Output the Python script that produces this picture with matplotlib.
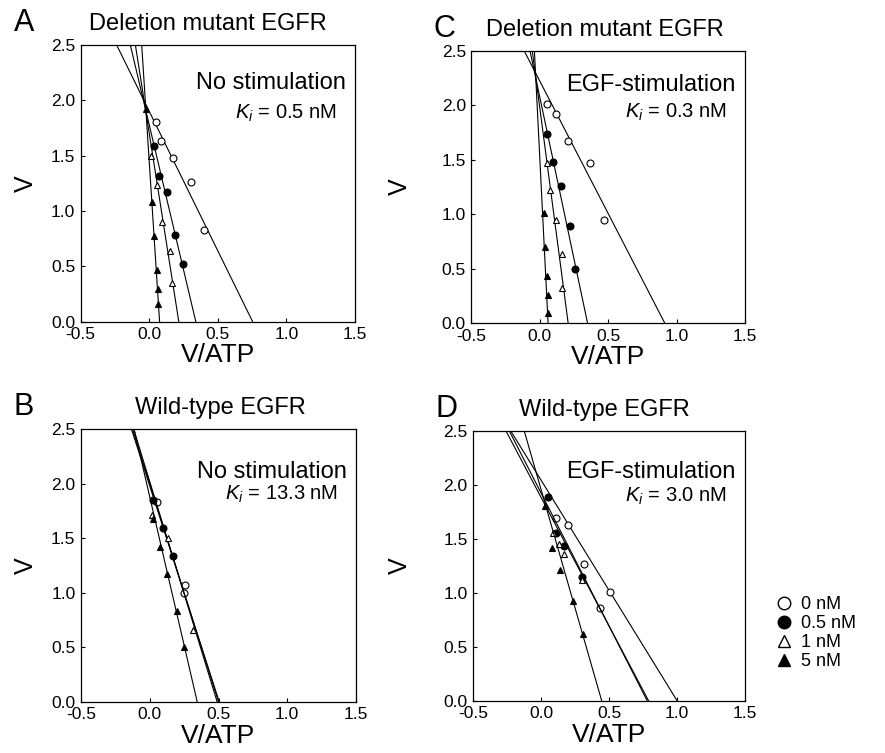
import matplotlib
matplotlib.use("Agg")
import matplotlib.pyplot as plt
from matplotlib.lines import Line2D
import numpy as np

plt.rcParams['font.family'] = ['Liberation Sans', 'DejaVu Sans']
plt.rcParams['mathtext.fontset'] = 'custom'
plt.rcParams['mathtext.rm'] = 'Liberation Sans'
plt.rcParams['mathtext.it'] = 'Liberation Sans:italic'

conc_labels = ["0 nM", "0.5 nM", "1 nM", "5 nM"]

# panel A: deletion mutant, no stimulation
A_x = [[0.047, 0.086, 0.171, 0.302, 0.399],
       [0.037, 0.071, 0.129, 0.185, 0.248],
       [0.013, 0.059, 0.095, 0.151, 0.166],
       [-0.024, 0.018, 0.032, 0.054, 0.061, 0.061]]
A_y = [[1.80, 1.63, 1.48, 1.26, 0.83],
       [1.59, 1.32, 1.17, 0.78, 0.52],
       [1.50, 1.23, 0.90, 0.64, 0.35],
       [1.92, 1.08, 0.77, 0.47, 0.29, 0.16]]
A_vint = [1.90, 1.776, 1.70, 1.44]
A_xint = [0.753, 0.339, 0.215, 0.075]

# panel C: deletion mutant, EGF-stimulation
C_x = [[0.049, 0.12, 0.207, 0.366, 0.471],
       [0.049, 0.095, 0.156, 0.22, 0.254],
       [0.052, 0.073, 0.12, 0.159, 0.159],
       [0.029, 0.041, 0.054, 0.059, 0.059]]
C_y = [[2.01, 1.92, 1.67, 1.47, 0.95],
       [1.74, 1.48, 1.26, 0.89, 0.50],
       [1.47, 1.22, 0.95, 0.64, 0.32],
       [1.01, 0.70, 0.43, 0.26, 0.09]]
C_vint = [2.22, 2.07, 1.97, 1.50]
C_xint = [0.914, 0.349, 0.207, 0.06]

# panel B: wild-type, no stimulation
B_x = [[0.05, 0.255, 0.248],
       [0.025, 0.098, 0.166],
       [0.013, 0.13, 0.316],
       [0.02, 0.074, 0.127, 0.195, 0.25]]
B_y = [[1.83, 1.07, 1.00],
       [1.85, 1.59, 1.34],
       [1.71, 1.50, 0.66],
       [1.68, 1.42, 1.17, 0.835, 0.505]]
B_vint = [2.00, 2.02, 1.98, 1.88]
B_xint = [0.50, 0.49, 0.505, 0.345]

# panel D: wild-type, EGF-stimulation
D_x = [[0.11, 0.20, 0.315, 0.43, 0.506],
       [0.052, 0.11, 0.167, 0.298],
       [0.09, 0.13, 0.17, 0.30],
       [0.028, 0.082, 0.138, 0.236, 0.31]]
D_y = [[1.69, 1.63, 1.27, 0.86, 1.01],
       [1.89, 1.55, 1.43, 1.15],
       [1.55, 1.45, 1.36, 1.12],
       [1.80, 1.41, 1.21, 0.92, 0.62]]
D_vint = [2.04, 1.92, 1.88, 1.95]
D_xint = [1.00, 0.78, 0.79, 0.445]

panels = [
    # letter, title, stim, Ki, rect(px: left, right, top, bottom), data, text spots
    ("A", "Deletion mutant EGFR", "No stimulation", "0.5", (80.7, 355, 45, 321.5),
     A_x, A_y, A_vint, A_xint, 208, 0.841, 0.732, 38, 24),
    ("C", "Deletion mutant EGFR", "EGF-stimulation", "0.3", (471.5, 745, 50.7, 323.3),
     C_x, C_y, C_vint, C_xint, 605, 0.853, 0.756, 412, 444),
    ("B", "Wild-type EGFR", "No stimulation", "13.3", (81, 356, 429.3, 701.7),
     B_x, B_y, B_vint, B_xint, 220, 0.821, 0.740, 38, 24),
    ("D", "Wild-type EGFR", "EGF-stimulation", "3.0", (473.3, 745, 430.7, 700.7),
     D_x, D_y, D_vint, D_xint, 604, 0.824, 0.737, 412, 446),
]

styles = [dict(marker='o', mfc='white', mec='black'),
          dict(marker='o', mfc='black', mec='black'),
          dict(marker='^', mfc='white', mec='black'),
          dict(marker='^', mfc='black', mec='black')]

W, H = 885, 753
fig = plt.figure(figsize=(W / 100, H / 100), dpi=100)

for (letter, title, stim, ki, (l, r, t, b), xs, ys, vints, xints,
     title_x, stim_y, ki_y, ylab_x, letter_x) in panels:
    ax = fig.add_axes([l / W, 1 - b / H, (r - l) / W, (b - t) / H])
    for i in range(4):
        x_top = xints[i] * (1 - 2.5 / vints[i])
        ax.plot([x_top, xints[i]], [2.5, 0], color='black', lw=0.8)
        ax.plot(xs[i], ys[i], ls='none', ms=5, mew=0.8, **styles[i])
    ax.set_xlim(-0.5, 1.5)
    ax.set_ylim(0, 2.5)
    ax.set_xticks([-0.5, 0.0, 0.5, 1.0, 1.5])
    ax.set_yticks([0.0, 0.5, 1.0, 1.5, 2.0, 2.5])
    ax.xaxis.set_major_formatter(matplotlib.ticker.FormatStrFormatter('%.1f'))
    ax.yaxis.set_major_formatter(matplotlib.ticker.FormatStrFormatter('%.1f'))
    ax.tick_params(direction='in', length=3, width=0.8, labelsize=12.5, pad=4)
    for s in ax.spines.values():
        s.set_linewidth(0.9)
    ax.set_xlabel("V/ATP", fontsize=19, labelpad=1)
    ax.set_ylabel("V", fontsize=18)
    ax.yaxis.set_label_coords((ylab_x - l) / (r - l), 0.5)
    ax.text(1 - 9 / (r - l), stim_y, stim, transform=ax.transAxes,
            ha='right', va='baseline', fontsize=17)
    ax.text(1 - 18 / (r - l), ki_y, r"$K_i$ = " + ki + " nM", transform=ax.transAxes,
            ha='right', va='baseline', fontsize=14.5)
    fig.text(title_x / W, 1 - (t - 15) / H, title, ha='center', va='baseline', fontsize=17)
    fig.text(letter_x / W, 1 - (t - 14) / H, letter, ha='center', va='baseline', fontsize=22)

handles = [Line2D([], [], ls='none', ms=9, mew=1.0, **s) for s in styles]
fig.legend(handles, conc_labels, loc='upper left', bbox_to_anchor=(777 / W, 1 - 596 / H),
           frameon=False, fontsize=13, handlelength=0.8, handletextpad=0.55,
           labelspacing=0.12, borderpad=0, borderaxespad=0)

fig.savefig("out.png", dpi=100)
